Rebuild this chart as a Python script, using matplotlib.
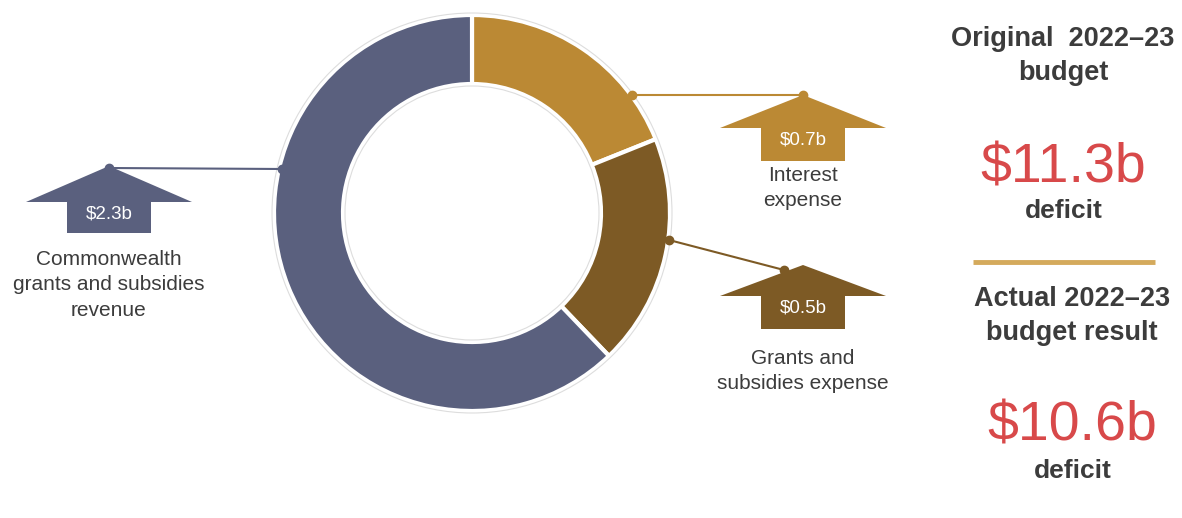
import matplotlib
matplotlib.use("Agg")
import matplotlib.pyplot as plt
from matplotlib.patches import Polygon, Circle

plt.rcParams['font.family'] = ['Liberation Sans', 'DejaVu Sans']

# ------------------------------------------
# data
# ------------------------------------------
categories = ['Interest\nexpense', 'Grants and\nsubsidies expense',
              'Commonwealth\ngrants and subsidies\nrevenue']
value_labels = ['$0.7b', '$0.5b', '$2.3b']
slice_sizes = [0.7, 0.7, 2.3]          # share of the ring as drawn
colors = ['#BB8934', '#7D5A25', '#5A607E']

headings = ['Original  2022\u201323\nbudget', 'Actual 2022\u201323\nbudget result']
amounts = ['$11.3b', '$10.6b']
amount_note = 'deficit'

TEXT = '#3c3c3c'
RED = '#D8494A'
H = 518


def py(y):
    # picture y (top down) -> axes y (bottom up)
    return H - y


fig = plt.figure(figsize=(11.82, 5.18), dpi=100)
ax = fig.add_axes([0, 0, 1, 1])

# ------------------------------------------
# donut
# ------------------------------------------
cx, cy, R, W = 472, 213, 198, 69
ax.pie(slice_sizes, colors=colors, startangle=90, counterclock=False,
       center=(cx, py(cy)), radius=R, frame=True,
       wedgeprops=dict(width=W, edgecolor='white', linewidth=3))
ax.add_patch(Circle((cx, py(cy)), R + 2, fill=False, ec='#dddddd', lw=0.8))
ax.add_patch(Circle((cx, py(cy)), R - W - 2, fill=False, ec='#dddddd', lw=0.8))
ax.set_xlim(0, 1182)
ax.set_ylim(0, H)
ax.set_aspect('equal')
ax.axis('off')


# ------------------------------------------
# callouts (house-shaped arrows)
# ------------------------------------------
def house(x, peak, roof, bottom, color, label):
    pts = [(x, peak), (x + 83, roof), (x + 42, roof), (x + 42, bottom),
           (x - 42, bottom), (x - 42, roof), (x - 83, roof)]
    ax.add_patch(Polygon([(a, py(b)) for a, b in pts], closed=True,
                         fc=color, ec='none', zorder=3))
    ax.text(x, py((roof + bottom) / 2 - 4), label, color='white',
            fontsize=13.5, ha='center', va='center', zorder=4)


def connector(p0, p1, color):
    ax.plot([p0[0], p1[0]], [py(p0[1]), py(p1[1])], color=color, lw=1.5,
            zorder=4)
    ax.plot([p0[0], p1[0]], [py(p0[1]), py(p1[1])], 'o', color=color,
            ms=6, zorder=5)


# interest expense
house(803, 95, 128, 161, colors[0], value_labels[0])
connector((632, 95), (803, 95), colors[0])
ax.text(803, py(188), categories[0], ha='center', va='center',
        fontsize=15, color=TEXT, linespacing=1.4)

# grants and subsidies expense
house(803, 265, 296, 329, colors[1], value_labels[1])
connector((669, 240), (784, 270), colors[1])
ax.text(803, py(371), categories[1], ha='center', va='center',
        fontsize=15, color=TEXT, linespacing=1.4)

# commonwealth revenue
house(109, 166, 202, 233, colors[2], value_labels[2])
connector((282, 169), (109, 168), colors[2])
ax.text(109, py(285), categories[2], ha='center', va='center',
        fontsize=15, color=TEXT, linespacing=1.45)

# ------------------------------------------
# right panel
# ------------------------------------------
ax.text(1063, py(56), headings[0], ha='center', va='center', fontsize=19.5,
        fontweight='bold', color=TEXT, linespacing=1.45)
ax.text(1063, py(182), amounts[0], ha='center', va='baseline', fontsize=40,
        color=RED)
ax.text(1064, py(218), amount_note, ha='center', va='baseline', fontsize=19,
        fontweight='bold', color=TEXT)
ax.plot([973, 1155], [py(262), py(262)], color='#D4AA5C', lw=3.5,
        solid_capstyle='butt')
ax.text(1072, py(316), headings[1], ha='center', va='center', fontsize=19.5,
        fontweight='bold', color=TEXT, linespacing=1.45)
ax.text(1072, py(441), amounts[1], ha='center', va='baseline', fontsize=40,
        color=RED)
ax.text(1073, py(478), amount_note, ha='center', va='baseline',
        fontsize=19, fontweight='bold', color=TEXT)

fig.savefig('out.png', dpi=100)
